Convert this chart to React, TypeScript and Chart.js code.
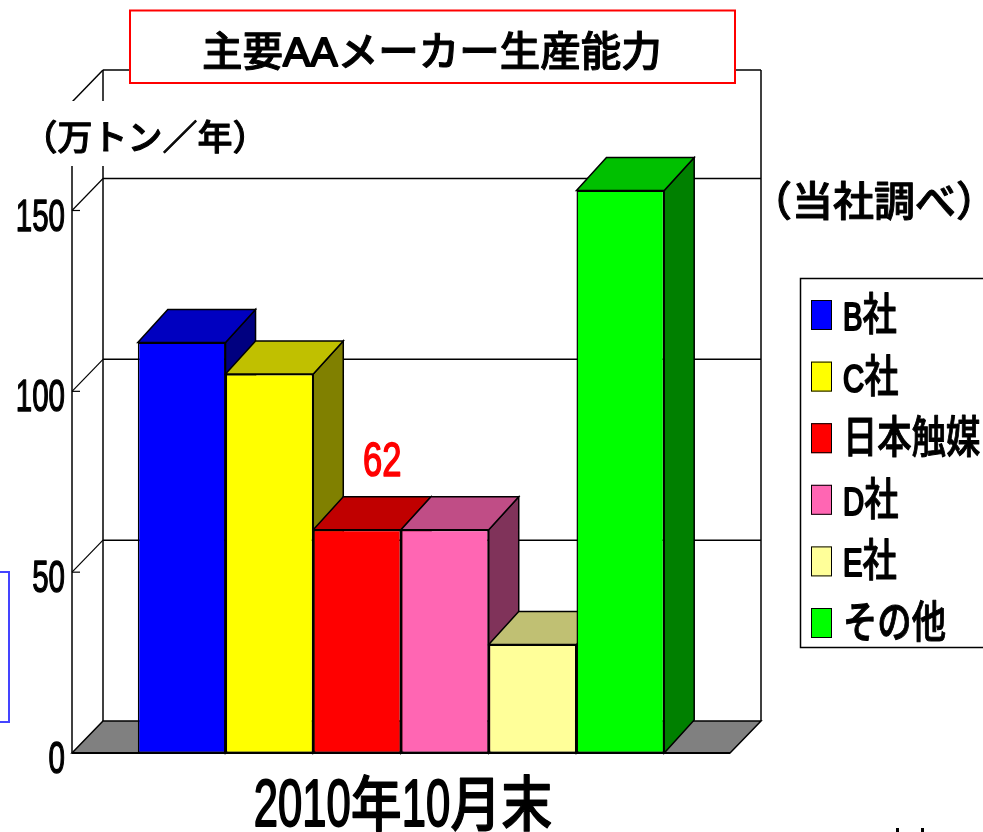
import React, { useEffect, useRef } from "react";
import { Chart, registerables } from "chart.js";

Chart.register(...registerables);

const categories = ["2010年10月末"];
const seriesNames = ["B社", "C社", "日本触媒", "D社", "E社", "その他"];
const seriesValues = [113.5, 104.8, 61.7, 61.7, 30, 155.5];
const faceColors = ["#0000ff", "#ffff00", "#ff0000", "#ff66b3", "#ffff99", "#00ff00"];
const topColors = ["#0000c0", "#c0c000", "#c00000", "#c04d86", "#c0c073", "#00c000"];
const sideColors = ["#000080", "#808000", "#800000", "#80335a", "#80804d", "#008000"];
const yTickValues = [0, 50, 100, 150];
const yMax = 180;
const labelledSeries = 2;
const chartTitle = "主要AAメーカー生産能力";
const unitLabel = "（万トン／年）";
const sourceLabel = "（当社調べ）";

const WALL = { dx: 31, dy: -32 };
const BAR = { dx: 30, dy: -33 };
const CJK = '"Noto Sans CJK JP"';
const LATIN = '"Liberation Sans"';

type TextStyle = {
  latinPx: number;
  cjkPx: number;
  latinSx: number;
  cjkSx: number;
  latinStroke: number;
  cjkStroke: number;
};

function runsOf(text: string) {
  return text.match(/[\x00-\x7f]+|[^\x00-\x7f]+/g) || [];
}

function drawText(
  ctx: CanvasRenderingContext2D,
  text: string,
  x: number,
  baseline: number,
  s: TextStyle,
  align: "left" | "right" | "center" = "left",
  color = "#000"
) {
  const runs = runsOf(text).map((r) => {
    const latin = /^[\x00-\x7f]/.test(r);
    const font = latin ? `normal ${s.latinPx}px ${LATIN}` : `500 ${s.cjkPx}px ${CJK}`;
    const sx = latin ? s.latinSx : s.cjkSx;
    const stroke = latin ? s.latinStroke : s.cjkStroke;
    ctx.font = font;
    return { r, font, sx, stroke, w: ctx.measureText(r).width * sx };
  });
  const total = runs.reduce((a, b) => a + b.w, 0);
  let px = align === "left" ? x : align === "right" ? x - total : x - total / 2;
  ctx.fillStyle = color;
  ctx.strokeStyle = color;
  ctx.textAlign = "left";
  ctx.textBaseline = "alphabetic";
  for (const run of runs) {
    ctx.save();
    ctx.translate(px, baseline);
    ctx.scale(run.sx, 1);
    ctx.font = run.font;
    ctx.fillText(run.r, 0, 0);
    ctx.lineJoin = "round";
    ctx.lineWidth = run.stroke;
    ctx.strokeText(run.r, 0, 0);
    ctx.restore();
    px += run.w;
  }
}

function poly(ctx: CanvasRenderingContext2D, pts: number[][], fill: string | null, lw = 1.5) {
  ctx.beginPath();
  pts.forEach((p, i) => (i ? ctx.lineTo(p[0], p[1]) : ctx.moveTo(p[0], p[1])));
  ctx.closePath();
  if (fill) {
    ctx.fillStyle = fill;
    ctx.fill();
  }
  ctx.lineWidth = lw;
  ctx.strokeStyle = "#000";
  ctx.stroke();
}

function line(ctx: CanvasRenderingContext2D, x1: number, y1: number, x2: number, y2: number, lw = 1.5) {
  ctx.beginPath();
  ctx.moveTo(x1, y1);
  ctx.lineTo(x2, y2);
  ctx.lineWidth = lw;
  ctx.strokeStyle = "#000";
  ctx.stroke();
}

const threeD = {
  id: "threeD",
  beforeDatasetsDraw(chart: any) {
    const { ctx, chartArea: a, scales } = chart;
    const y = scales.y;
    ctx.save();
    const left = a.left;
    const right = a.right;
    const base = y.getPixelForValue(0);
    const top = y.getPixelForValue(yMax);
    // walls
    line(ctx, left + WALL.dx, top + WALL.dy, right + WALL.dx, top + WALL.dy);
    line(ctx, left + WALL.dx, top + WALL.dy, left + WALL.dx, base + WALL.dy);
    line(ctx, right + WALL.dx, top + WALL.dy, right + WALL.dx, base + WALL.dy);
    line(ctx, left, top, left, base);
    line(ctx, left, top, left + WALL.dx, top + WALL.dy);
    // gridlines
    yTickValues.slice(1).forEach((v) => {
      const py = y.getPixelForValue(v);
      line(ctx, left + WALL.dx, py + WALL.dy, right + WALL.dx, py + WALL.dy);
      line(ctx, left + WALL.dx, py + WALL.dy, left, py, 1.2);
      line(ctx, left, py, left + 8, py, 1.2);
    });
    // floor
    poly(ctx, [
      [left, base],
      [right, base],
      [right + WALL.dx, base + WALL.dy],
      [left + WALL.dx, base + WALL.dy],
    ], "#808080");
    line(ctx, left, base, right, base, 2);
    // bar tops and sides
    chart.data.datasets.forEach((_: any, i: number) => {
      const el = chart.getDatasetMeta(i).data[0];
      const half = el.width / 2;
      const l = el.x - half;
      const r = el.x + half;
      const t = el.y;
      const b = el.base;
      poly(ctx, [
        [r, t],
        [r + BAR.dx, t + BAR.dy],
        [r + BAR.dx, b + BAR.dy],
        [r, b],
      ], sideColors[i]);
      poly(ctx, [
        [l, t],
        [r, t],
        [r + BAR.dx, t + BAR.dy],
        [l + BAR.dx, t + BAR.dy],
      ], topColors[i]);
    });
    ctx.restore();
  },
  afterDraw(chart: any) {
    const { ctx, chartArea: a, scales } = chart;
    const y = scales.y;
    const x = scales.x;
    ctx.save();

    // mask behind the unit label
    ctx.fillStyle = "#fff";
    ctx.fillRect(20, 101, 232, 65);

    // y tick labels
    const tickStyle: TextStyle = { latinPx: 44, cjkPx: 44, latinSx: 0.67, cjkSx: 0.8, latinStroke: 1.4, cjkStroke: 1 };
    yTickValues.forEach((v) => {
      drawText(ctx, String(v), a.left - 7, y.getPixelForValue(v) + 20, tickStyle, "right");
    });

    // category label
    drawText(
      ctx,
      categories[0],
      x.getPixelForValue(0) + 2,
      826,
      { latinPx: 66, cjkPx: 60, latinSx: 0.66, cjkSx: 0.85, latinStroke: 2, cjkStroke: 1.2 },
      "center"
    );

    // value label
    const el = chart.getDatasetMeta(labelledSeries).data[0];
    drawText(
      ctx,
      String(Math.round(seriesValues[labelledSeries])),
      el.x + 25,
      el.y - 54,
      { latinPx: 48, cjkPx: 48, latinSx: 0.72, cjkSx: 1, latinStroke: 1.6, cjkStroke: 1 },
      "center",
      "#ff0000"
    );

    // title box
    ctx.fillStyle = "#fff";
    ctx.fillRect(130, 10, 605, 73);
    ctx.strokeStyle = "#ff0000";
    ctx.lineWidth = 2;
    ctx.strokeRect(130, 10.5, 605, 72.5);
    drawText(ctx, chartTitle, 202, 66, { latinPx: 41, cjkPx: 40.5, latinSx: 1, cjkSx: 1, latinStroke: 2, cjkStroke: 1 });

    // side labels
    const sideA: TextStyle = { latinPx: 35, cjkPx: 35, latinSx: 1, cjkSx: 1, latinStroke: 1, cjkStroke: 1 };
    const sideB: TextStyle = { latinPx: 41, cjkPx: 41, latinSx: 1, cjkSx: 1, latinStroke: 1, cjkStroke: 1 };
    drawText(ctx, unitLabel, 22.5, 150, sideA);
    drawText(ctx, sourceLabel, 751, 216, sideB);

    // legend
    ctx.fillStyle = "#fff";
    ctx.fillRect(800, 278, 190, 370);
    ctx.strokeStyle = "#000";
    ctx.lineWidth = 1.5;
    ctx.strokeRect(800.5, 278.5, 190, 369);
    const legendStyle: TextStyle = { latinPx: 38, cjkPx: 44, latinSx: 0.77, cjkSx: 0.78, latinStroke: 2.2, cjkStroke: 1 };
    chart.data.datasets.forEach((d: any, i: number) => {
      const sy = 300 + i * 61.6;
      ctx.fillStyle = d.backgroundColor;
      ctx.fillRect(811, sy, 21, 30);
      ctx.strokeStyle = "#000";
      ctx.lineWidth = 1;
      ctx.strokeRect(811.5, sy + 0.5, 20, 29);
      drawText(ctx, d.label, 843, sy + 30, legendStyle);
    });

    // neighbouring slide elements cut off at the page edges
    ctx.strokeStyle = "#4444ff";
    ctx.lineWidth = 2;
    ctx.strokeRect(-4, 572, 13, 150);
    ctx.fillStyle = "#000";
    ctx.fillRect(896, 828, 3, 4);
    ctx.fillRect(921, 828, 3, 4);

    ctx.restore();
  },
};

export default function App() {
  const ref = useRef<HTMLCanvasElement>(null);
  useEffect(() => {
    if (!ref.current) return;
    const chart = new Chart(ref.current, {
      type: "bar",
      data: {
        labels: categories,
        datasets: seriesNames.map((name, i) => ({
          label: name,
          data: [seriesValues[i]],
          backgroundColor: faceColors[i],
          borderColor: "#000",
          borderWidth: 1.5,
          borderSkipped: false,
          categoryPercentage: 0.8,
          barPercentage: 1,
        })),
      },
      options: {
        responsive: false,
        animation: false,
        devicePixelRatio: 1,
        layout: { padding: { left: 72, right: 253, top: 102, bottom: 79 } },
        plugins: { legend: { display: false }, tooltip: { enabled: false } },
        scales: {
          x: { display: false },
          y: { display: false, min: 0, max: yMax },
        },
      },
      plugins: [threeD],
    } as any);
    return () => chart.destroy();
  }, []);
  return (
    <canvas
      ref={ref}
      width={983}
      height={832}
      style={{ position: "absolute", left: 0, top: 0, width: 983, height: 832, display: "block" }}
    />
  );
}
